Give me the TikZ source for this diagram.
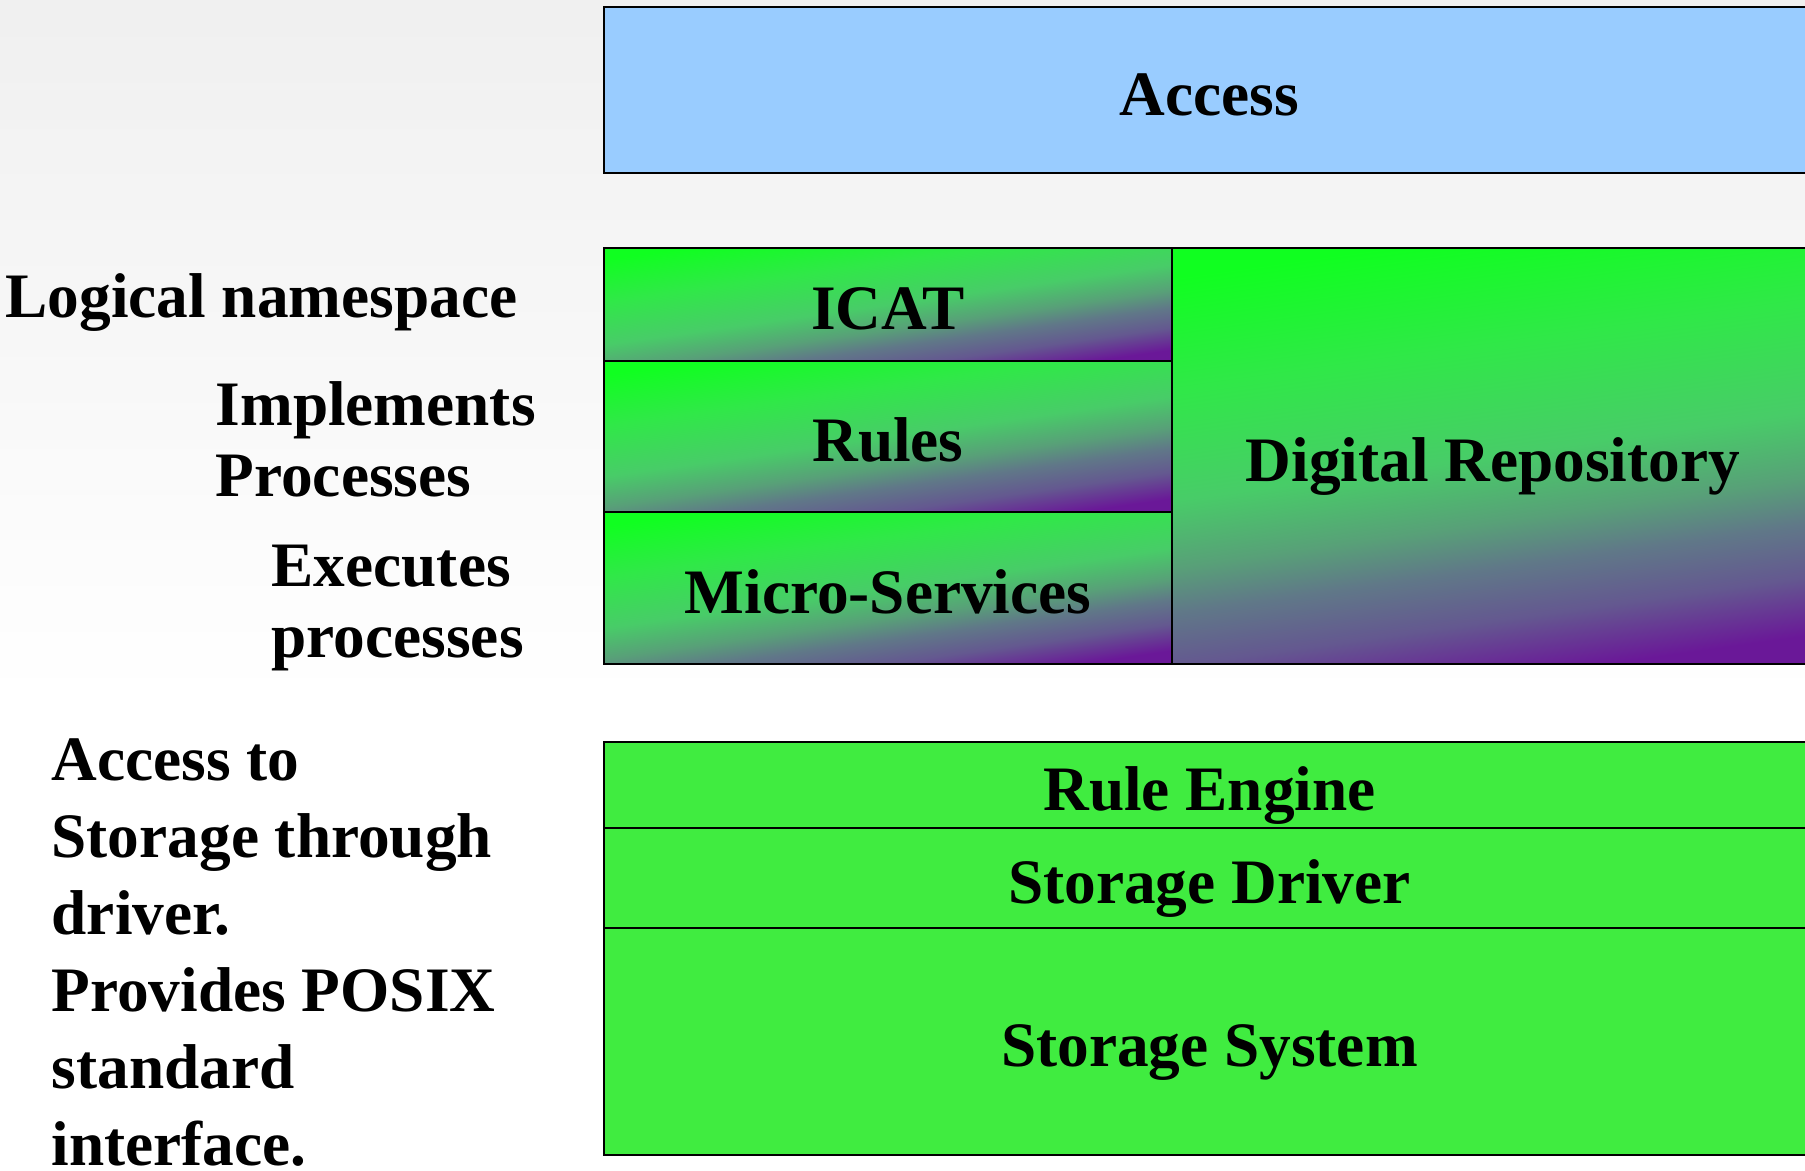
\documentclass[tikz,border=0pt]{standalone}
\usepackage{fontspec}
\setmainfont{Liberation Serif}
\definecolor{accessblue}{RGB}{153,204,255}
\definecolor{storegreen}{RGB}{64,236,64}
\definecolor{topgreen}{RGB}{16,255,32}
\definecolor{lowpurple}{RGB}{106,24,152}
% green-to-purple fade of the middle layers (bottom to top)
\pgfdeclareverticalshading{layerfade}{100bp}{color(0bp)=(lowpurple); color(25bp)=(lowpurple);
  color(31.5bp)=(rgb,255:red,100;green,88;blue,144); color(37.5bp)=(rgb,255:red,96;green,120;blue,136);
  color(42.5bp)=(rgb,255:red,88;green,160;blue,120); color(50bp)=(rgb,255:red,72;green,204;blue,104);
  color(62.5bp)=(rgb,255:red,48;green,232;blue,72); color(75bp)=(topgreen); color(100bp)=(topgreen)}
\begin{document}
\begin{tikzpicture}[x=0.01cm, y=-0.01cm,
    every node/.style={font=\fontsize{18}{21.9}\selectfont\bfseries},
    layer/.style={draw=black, line width=0.6pt, inner sep=0pt, text height=16pt, text depth=1.5pt},
    accessbox/.style={layer, fill=accessblue},
    flatbox/.style={layer, fill=storegreen},
    fadebox/.style={layer, shade, shading=layerfade, shading angle=8},
    note/.style={align=left, anchor=base west, inner sep=0pt},
    tightnote/.style={note, font=\fontsize{18}{20.3}\selectfont\bfseries}]
    % 1. page and grey background fade
    \clip (0,0) rectangle (1805,1171);
    \shade[top color=gray!12, bottom color=white] (0,0) rectangle (1805,700);
    
    % 2. access layer
    \node[accessbox, minimum width=12.11cm, minimum height=1.66cm] (access) at (1209.5,90) {Access};
    
    % 3. middle layers (shaded)
    \node[fadebox, minimum width=5.68cm, minimum height=1.13cm] (icat) at (888,304.5) {ICAT};
    \node[fadebox, minimum width=5.68cm, minimum height=1.51cm] (rules) at (888,436.5) {Rules};
    \node[fadebox, minimum width=5.68cm, minimum height=1.52cm] (micro) at (888,588) {Micro-Services};
    \node[fadebox, minimum width=6.42cm, minimum height=4.16cm] (repo) at (1493,456) {Digital Repository};
    
    % 4. storage layers
    \node[flatbox, minimum width=12.11cm, minimum height=0.86cm] (engine) at (1209.5,785) {Rule Engine};
    \node[flatbox, minimum width=12.11cm, minimum height=1.00cm] (driver) at (1209.5,878) {Storage Driver};
    \node[flatbox, minimum width=12.11cm, minimum height=2.27cm] (storage) at (1209.5,1041.5) {Storage System};
    
    % 5. side notes (anchored on the last line)
    \node[note] (ns) at (5,318) {Logical namespace};
    \node[tightnote] (impl) at (215,497) {Implements\\Processes};
    \node[tightnote] (exec) at (271,658) {Executes\\processes};
    \node[note] (posix) at (51,1166) {Access to\\Storage through\\driver.\\Provides POSIX\\standard\\interface.};
\end{tikzpicture}
\end{document}
